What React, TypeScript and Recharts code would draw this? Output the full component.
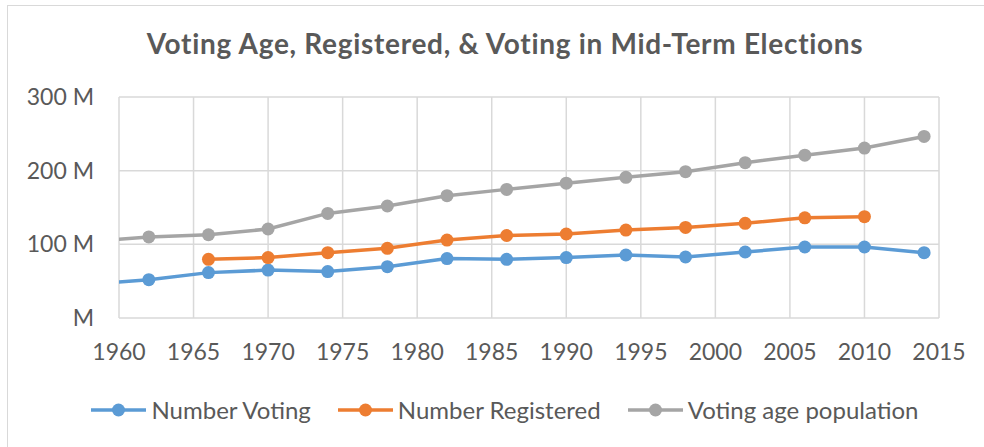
import { LineChart, Line, XAxis, YAxis, CartesianGrid } from 'recharts';

const YEARS = [1958, 1962, 1966, 1970, 1974, 1978, 1982, 1986, 1990, 1994, 1998, 2002, 2006, 2010, 2014];
const NUMBER_VOTING = [45.6, 52, 61.6, 65, 63, 69.7, 80.6, 79.6, 82, 85.5, 82.8, 89.6, 96.4, 96.4, 88.7];
const NUMBER_REGISTERED = [null, null, 79.6, 82, 88.7, 94.6, 105.8, 112, 114, 119.4, 123, 128.5, 136, 137.6, null];
const VOTING_AGE_POP = [103.6, 110, 113, 120.8, 142, 152, 166, 174.6, 183, 191, 198.6, 210.8, 221, 230.7, 246.5];

const X_TICKS = [1960, 1965, 1970, 1975, 1980, 1985, 1990, 1995, 2000, 2005, 2010, 2015];
const Y_TICKS = [0, 100, 200, 300];

const SERIES = [
  { key: 'voting', label: 'Number Voting', color: '#5B9BD5' },
  { key: 'registered', label: 'Number Registered', color: '#ED7D31' },
  { key: 'vap', label: 'Voting age population', color: '#A5A5A5' },
];

const data = YEARS.map((year, i) => ({
  year,
  voting: NUMBER_VOTING[i],
  registered: NUMBER_REGISTERED[i],
  vap: VOTING_AGE_POP[i],
}));

const FONT = 'Lato, "Open Sans", sans-serif';
const TEXT = '#595959';

function LegendRow() {
  return (
    <div
      style={{
        position: 'absolute',
        left: 30,
        width: 950,
        top: 395,
        display: 'flex',
        justifyContent: 'center',
        gap: 27,
        fontFamily: FONT,
        fontSize: 24,
        color: TEXT,
        lineHeight: '30px',
      }}
    >
      {SERIES.map(s => (
        <div key={s.key} style={{ display: 'flex', alignItems: 'center', gap: 5 }}>
          <svg width={55} height={14}>
            <line x1={0} y1={7} x2={55} y2={7} stroke={s.color} strokeWidth={3.5} />
            <circle cx={27.5} cy={7} r={6.5} fill={s.color} />
          </svg>
          <span>{s.label}</span>
        </div>
      ))}
    </div>
  );
}

export default function App() {
  return (
    <div style={{ position: 'relative', width: 984, height: 447, background: '#fff', overflow: 'hidden' }}>
      <style>{`body{margin:0}`}</style>
      {/* chart frame: only top and left edges show in the crop */}
      <div style={{ position: 'absolute', left: 7, top: 5, right: -2, bottom: -2, border: '1.5px solid #D9D9D9' }} />
      <div
        style={{
          position: 'absolute',
          top: 26,
          left: 0,
          width: 1010,
          textAlign: 'center',
          fontFamily: FONT,
          fontWeight: 700,
          fontSize: 28,
          letterSpacing: 0.7,
          color: TEXT,
        }}
      >
        Voting Age, Registered, &amp; Voting in Mid-Term Elections
      </div>
      <div style={{ position: 'absolute', left: 0, top: 0 }}>
        <LineChart width={984} height={447} data={data} margin={{ top: 97, right: 45, bottom: 78, left: 0 }}>
          <CartesianGrid stroke="#D9D9D9" strokeWidth={1.5} />
          <XAxis
            dataKey="year"
            type="number"
            domain={[1960, 2015]}
            ticks={X_TICKS}
            allowDataOverflow
            axisLine={false}
            tickLine={false}
            tickSize={0}
            tickMargin={26}
            height={51}
            tick={{ fill: TEXT, fontSize: 23, fontFamily: FONT }}
          />
          <YAxis
            type="number"
            domain={[0, 300]}
            ticks={Y_TICKS}
            width={119}
            axisLine={false}
            tickLine={false}
            tickSize={0}
            tickMargin={25}
            tickFormatter={(v: number) => (v === 0 ? 'M' : `${v} M`)}
            tick={{ fill: TEXT, fontSize: 23, fontFamily: FONT }}
          />
          {SERIES.map(s => (
            <Line
              key={s.key}
              dataKey={s.key}
              name={s.label}
              type="linear"
              stroke={s.color}
              strokeWidth={3.5}
              dot={{ r: 6.5, fill: s.color, stroke: 'none' }}
              activeDot={false}
              isAnimationActive={false}
            />
          ))}
        </LineChart>
      </div>
      <LegendRow />
    </div>
  );
}
